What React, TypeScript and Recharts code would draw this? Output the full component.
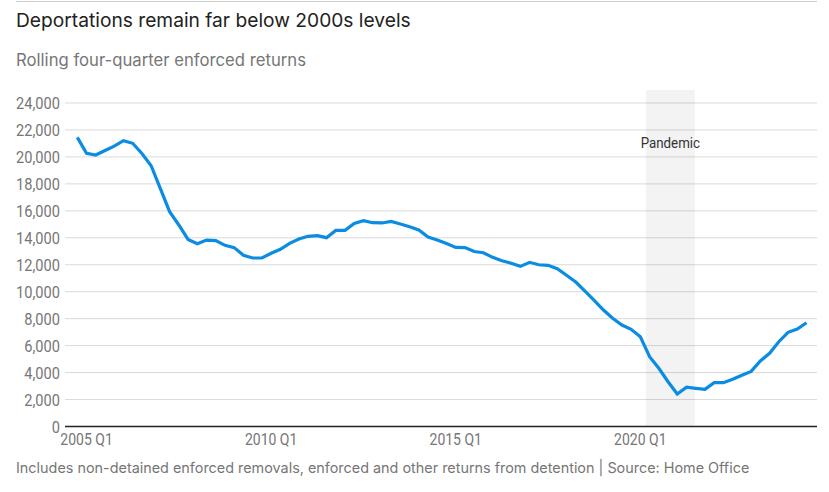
import React from 'react';
import {
  LineChart, Line, XAxis, YAxis, CartesianGrid, ReferenceArea,
} from 'recharts';

// rolling four-quarter totals, year ending 2004 Q4 .. 2024 Q3
const quarters = [
  '2004 Q4',
  '2005 Q1', '2005 Q2', '2005 Q3', '2005 Q4',
  '2006 Q1', '2006 Q2', '2006 Q3', '2006 Q4',
  '2007 Q1', '2007 Q2', '2007 Q3', '2007 Q4',
  '2008 Q1', '2008 Q2', '2008 Q3', '2008 Q4',
  '2009 Q1', '2009 Q2', '2009 Q3', '2009 Q4',
  '2010 Q1', '2010 Q2', '2010 Q3', '2010 Q4',
  '2011 Q1', '2011 Q2', '2011 Q3', '2011 Q4',
  '2012 Q1', '2012 Q2', '2012 Q3', '2012 Q4',
  '2013 Q1', '2013 Q2', '2013 Q3', '2013 Q4',
  '2014 Q1', '2014 Q2', '2014 Q3', '2014 Q4',
  '2015 Q1', '2015 Q2', '2015 Q3', '2015 Q4',
  '2016 Q1', '2016 Q2', '2016 Q3', '2016 Q4',
  '2017 Q1', '2017 Q2', '2017 Q3', '2017 Q4',
  '2018 Q1', '2018 Q2', '2018 Q3', '2018 Q4',
  '2019 Q1', '2019 Q2', '2019 Q3', '2019 Q4',
  '2020 Q1', '2020 Q2', '2020 Q3', '2020 Q4',
  '2021 Q1', '2021 Q2', '2021 Q3', '2021 Q4',
  '2022 Q1', '2022 Q2', '2022 Q3', '2022 Q4',
  '2023 Q1', '2023 Q2', '2023 Q3', '2023 Q4',
  '2024 Q1', '2024 Q2', '2024 Q3',
];

const returns = [
  21450,
  20270, 20140, 20480, 20800,
  21200, 21010, 20250, 19350,
  17650, 15940, 14950, 13880,
  13560, 13830, 13790, 13440,
  13270, 12700, 12500, 12500,
  12850, 13150, 13590, 13910,
  14110, 14160, 14010, 14550,
  14550, 15070, 15270, 15120,
  15100, 15220, 15020, 14820,
  14580, 14060, 13830, 13570,
  13290, 13270, 12980, 12890,
  12550, 12300, 12110, 11880,
  12180, 12000, 11960, 11710,
  11220, 10720, 10050, 9360,
  8640, 8030, 7530, 7210,
  6660, 5180, 4320, 3320,
  2410, 2910, 2830, 2760,
  3250, 3250, 3500, 3800,
  4090, 4860, 5430, 6290,
  6990, 7230, 7700,
];

const xTickLabels = ['2005 Q1', '2010 Q1', '2015 Q1', '2020 Q1'];
const yTicks = [0, 2000, 4000, 6000, 8000, 10000, 12000, 14000, 16000, 18000, 20000, 22000, 24000];

// pandemic shading, in quarter-index units
const pandemicStart = 61.6;
const pandemicEnd = 66.9;
const pandemicLabel = 'Pandemic';

const data = quarters.map((q, i) => ({ t: i, quarter: q, value: returns[i] }));
const xTicks = xTickLabels.map(l => quarters.indexOf(l));

// the original uses a condensed grotesque; squeeze Roboto horizontally
const tickFont = "Roboto, 'Noto Sans', sans-serif";
const squeeze = 0.86;
const textFont = "Inter, 'Noto Sans', sans-serif";

const XTick = (props: any) => {
  const { x, y, payload } = props;
  return (
    <g transform={`translate(${x},${y})`}>
      <text transform={`scale(${squeeze},1)`} textAnchor="middle" dy="0.71em"
        fill="#767676" fontSize={16.3} fontFamily={tickFont}>
        {quarters[payload.value]}
      </text>
    </g>
  );
};

const YTick = (props: any) => {
  const { x, y, payload } = props;
  return (
    <g transform={`translate(${x},${y})`}>
      <text transform={`scale(${squeeze},1)`} textAnchor="end" dy="0.355em"
        fill="#767676" fontSize={17} fontFamily={tickFont}>
        {Number(payload.value).toLocaleString('en-US')}
      </text>
    </g>
  );
};

const PandemicLabel = (props: any) => {
  const vb = props.viewBox || {};
  return (
    <g transform={`translate(${vb.x + vb.width / 2},${vb.y + 58})`}>
      <text transform={`scale(${squeeze},1)`} textAnchor="middle"
        fill="#333" fontSize={15.5} fontFamily={tickFont}>
        {pandemicLabel}
      </text>
    </g>
  );
};

export default function App() {
  return (
    <div style={{ position: 'absolute', left: 0, top: 0, width: 829, height: 492, background: '#fff', overflow: 'hidden' }}>
      <div style={{ position: 'absolute', left: 16, right: 12, top: 1, borderTop: '1px solid #cfcfcf' }} />
      <div style={{ position: 'absolute', left: 16, top: 8, fontFamily: textFont, fontSize: 19.2, color: '#222', whiteSpace: 'nowrap' }}>
        Deportations remain far below 2000s levels
      </div>
      <div style={{ position: 'absolute', left: 16, top: 50, fontFamily: textFont, fontSize: 16.7, color: '#767676', whiteSpace: 'nowrap' }}>
        Rolling four-quarter enforced returns
      </div>

      <div style={{ position: 'absolute', left: 0, top: 0 }}>
        <LineChart width={829} height={492} data={data} margin={{ top: 103, right: 12, bottom: 35.5, left: 0 }}>
          <ReferenceArea
            x1={pandemicStart}
            x2={pandemicEnd}
            y1={0}
            y2={24960}
            ifOverflow="visible"
            fill="#000"
            fillOpacity={0.047}
            stroke="none"
            label={<PandemicLabel />}
          />
          <CartesianGrid vertical={false} stroke="#dadada" strokeWidth={1} />
          <XAxis
            type="number"
            dataKey="t"
            domain={[0, quarters.length - 1]}
            ticks={xTicks}
            padding={{ left: 12.3, right: 10.5 }}
            height={30}
            axisLine={{ stroke: '#222', strokeWidth: 1.5 }}
            tickLine={false}
            tickSize={0}
            tickMargin={7}
            tick={<XTick />}
            interval={0}
          />
          <YAxis
            width={65}
            domain={[0, 24000]}
            ticks={yTicks}
            axisLine={false}
            tickLine={false}
            tickSize={0}
            tickMargin={5}
            tick={<YTick />}
            interval={0}
          />
          <Line
            type="linear"
            dataKey="value"
            stroke="#0a8ce3"
            strokeWidth={3.2}
            dot={false}
            isAnimationActive={false}
          />
        </LineChart>
      </div>

      <div style={{ position: 'absolute', left: 16, top: 459, fontFamily: textFont, fontSize: 14.4, color: '#767676', whiteSpace: 'nowrap' }}>
        Includes non-detained enforced removals, enforced and other returns from detention | Source: Home Office
      </div>
    </div>
  );
}
